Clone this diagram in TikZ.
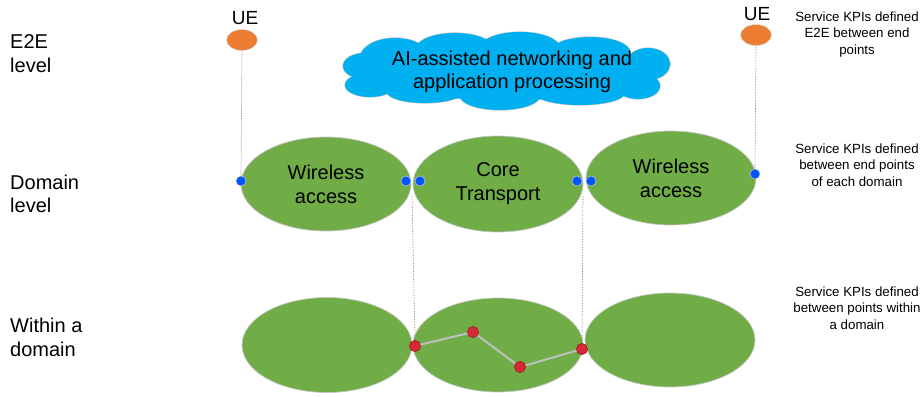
\documentclass[tikz,border=0pt]{standalone}
\usepackage{fontspec}
\setmainfont{Liberation Sans}
\usetikzlibrary{shapes.geometric}
\definecolor{dgreen}{RGB}{112,173,71}
\definecolor{ueorange}{RGB}{237,125,49}
\definecolor{cloudcyan}{RGB}{0,176,240}
\definecolor{dotblue}{RGB}{0,85,255}
\definecolor{dotred}{RGB}{214,40,54}
\definecolor{dotredline}{RGB}{160,30,40}
\definecolor{linegray}{RGB}{191,191,191}
\tikzset{
  domainell/.style={ellipse, fill=dgreen, draw=gray!45, line width=0.7pt,
    minimum width=170pt, minimum height=94pt, inner sep=0pt, align=center,
    font=\fontsize{20}{24}\selectfont},
  ueell/.style={ellipse, fill=ueorange, draw=gray!30, line width=0.5pt,
    minimum width=31pt, minimum height=21pt, inner sep=0pt},
  bluedot/.style={circle, fill=dotblue, draw=gray!40, line width=0.5pt,
    minimum size=10pt, inner sep=0pt},
  reddot/.style={circle, fill=dotred, draw=dotredline, line width=0.5pt,
    minimum size=11pt, inner sep=0pt},
  levellabel/.style={anchor=west, align=left, inner sep=0pt,
    font=\fontsize{20}{23.5}\selectfont},
  kpilabel/.style={align=center, inner sep=0pt,
    font=\fontsize{13.3}{16.5}\selectfont},
  uelabel/.style={inner sep=0pt, font=\fontsize{19}{22}\selectfont},
  cloudtext/.style={align=center, inner sep=0pt,
    font=\fontsize{20}{23}\selectfont},
  cloudedge/.style={draw=gray!45, line width=1.2pt},
  cloudfill/.style={fill=cloudcyan},
  vguide/.style={densely dotted, gray!80!black, line width=0.6pt},
  pathline/.style={linegray, line width=2pt}
}
\begin{document}
\begin{tikzpicture}[x=1pt,y=-1pt]
\useasboundingbox (0,0) rectangle (923,396);

% level labels
\node[levellabel] (lvl1) at (10,53.5) {E2E\\level};
\node[levellabel] (lvl2) at (10,194) {Domain\\level};
\node[levellabel] (lvl3) at (10,337.5) {Within a\\domain};

% KPI labels
\node[kpilabel] (kpi1) at (857,34.5) {Service KPIs defined\\E2E between end\\points};
\node[kpilabel] (kpi2) at (857,165) {Service KPIs defined\\between end points\\of each domain};
\node[kpilabel] (kpi3) at (857,308) {Service KPIs defined\\between points within\\a domain};

% UEs
\node[uelabel] (uet1) at (245,18) {UE};
\node[ueell] (ue1) at (242,40) {};
\node[uelabel] (uet2) at (757,14) {UE};
\node[ueell] (ue2) at (756,35) {};

% cloud: union of ellipses (outline pass, then fill pass)
\def\cloudparts{508/72/150/28, 395/58/35/20, 455/50/40/17, 520/48/40/16,
  590/52/40/15, 648/64/22/16, 638/86/22/13, 580/93/45/12, 500/96/40/14,
  425/92/38/11, 370/85/25/12, 365/66/22/13}
\foreach \cx/\cy/\rx/\ry in \cloudparts
  \path[cloudedge] (\cx,\cy) ellipse [x radius=\rx pt, y radius=\ry pt];
\foreach \cx/\cy/\rx/\ry in \cloudparts
  \path[cloudfill] (\cx,\cy) ellipse [x radius=\rx pt, y radius=\ry pt];
\node[cloudtext] (cloudlbl) at (512,71.5) {AI-assisted networking and\\application processing};

% domain level ellipses
\node[domainell] (wa1) at (326,184) {Wireless\\access};
\node[domainell, minimum height=96pt] (ct) at (498,184) {Core\\Transport};
\node[domainell] (wa2) at (671,178) {Wireless\\access};

% within-domain ellipses
\node[domainell, minimum height=95pt] (b1) at (327,345) {};
\node[domainell, minimum height=94pt] (b2) at (498,345) {};
\node[domainell, minimum height=94pt] (b3) at (670,340) {};

% blue end points
\node[bluedot] (d1) at (241,181) {};
\node[bluedot] (d2) at (406,181) {};
\node[bluedot] (d3) at (420,181) {};
\node[bluedot] (d4) at (577,181) {};
\node[bluedot] (d5) at (591,181) {};
\node[bluedot] (d6) at (755,174) {};

% junctions and red points
\coordinate (j1) at (412,196);
\coordinate (j2) at (583,196);
\node[reddot] (r1) at (415,346) {};
\node[reddot] (r2) at (473,332) {};
\node[reddot] (r3) at (520,367) {};
\node[reddot] (r4) at (582,349) {};

% guides
\draw[vguide] (ue1.south) -- (d1.north);
\draw[vguide] (ue2.south) -- (d6.north);
\draw[vguide] (j1) -- (r1.north);
\draw[vguide] (j2) -- (r4.north);

% path within domain
\draw[pathline] (r1) -- (r2) -- (r3) -- (r4);
\node[reddot] at (r1) {};
\node[reddot] at (r2) {};
\node[reddot] at (r3) {};
\node[reddot] at (r4) {};
\end{tikzpicture}
\end{document}
